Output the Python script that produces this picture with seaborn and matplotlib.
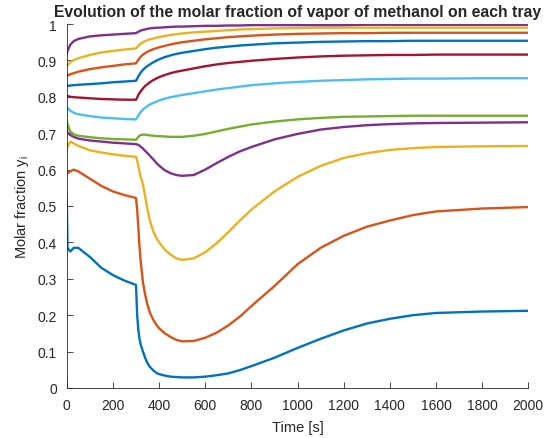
import matplotlib
matplotlib.use('Agg')
from matplotlib import pyplot as plt
import pandas as pd
import seaborn as sns

# time grid [s]
time = [0, 3, 15, 30, 50, 100, 150, 200, 250, 300, 305, 310, 315, 320, 330, 340, 350,
        360, 375, 390, 400, 425, 450, 475, 500, 550, 600, 650, 700, 750, 800, 900,
        1000, 1100, 1200, 1300, 1400, 1500, 1600, 1800, 2000]

# vapor molar fraction of methanol, tray 1 (bottom) .. tray 11 (top)
tray_1 = [0.52, 0.385, 0.375, 0.385, 0.385, 0.36, 0.33, 0.31, 0.295, 0.283, 0.2, 0.16,
          0.135, 0.12, 0.1, 0.082, 0.068, 0.058, 0.048, 0.041, 0.038, 0.034, 0.031,
          0.03, 0.029, 0.029, 0.031, 0.035, 0.04, 0.049, 0.06, 0.083, 0.11, 0.135,
          0.158, 0.177, 0.19, 0.2, 0.206, 0.21, 0.212]
tray_2 = [0.595, 0.59, 0.595, 0.60, 0.595, 0.575, 0.555, 0.54, 0.53, 0.522, 0.49, 0.44,
          0.39, 0.35, 0.29, 0.255, 0.228, 0.207, 0.187, 0.172, 0.164, 0.15, 0.14,
          0.132, 0.128, 0.129, 0.138, 0.152, 0.172, 0.196, 0.225, 0.28, 0.34, 0.385,
          0.418, 0.443, 0.46, 0.475, 0.485, 0.493, 0.497]
tray_3 = [0.655, 0.663, 0.677, 0.672, 0.665, 0.653, 0.647, 0.642, 0.638, 0.635, 0.625,
          0.61, 0.595, 0.58, 0.56, 0.525, 0.49, 0.46, 0.43, 0.41, 0.40, 0.38, 0.366,
          0.356, 0.352, 0.356, 0.373, 0.398, 0.428, 0.46, 0.49, 0.54, 0.58, 0.61,
          0.632, 0.645, 0.654, 0.659, 0.662, 0.664, 0.665]
tray_4 = [0.71, 0.702, 0.695, 0.69, 0.685, 0.68, 0.677, 0.674, 0.672, 0.67, 0.669,
          0.668, 0.666, 0.663, 0.658, 0.651, 0.645, 0.638, 0.628, 0.617, 0.611, 0.598,
          0.59, 0.585, 0.583, 0.585, 0.6, 0.618, 0.635, 0.65, 0.662, 0.683, 0.698,
          0.71, 0.717, 0.722, 0.725, 0.727, 0.728, 0.729, 0.73]
tray_5 = [0.735, 0.725, 0.705, 0.697, 0.693, 0.689, 0.686, 0.684, 0.683, 0.682, 0.686,
          0.69, 0.693, 0.695, 0.696, 0.696, 0.695, 0.694, 0.693, 0.692, 0.692, 0.691,
          0.69, 0.69, 0.69, 0.693, 0.698, 0.705, 0.712, 0.718, 0.724, 0.732, 0.738,
          0.742, 0.745, 0.746, 0.747, 0.748, 0.748, 0.748, 0.748]
tray_6 = [0.772, 0.769, 0.762, 0.756, 0.752, 0.747, 0.743, 0.741, 0.739, 0.738, 0.743,
          0.748, 0.753, 0.758, 0.765, 0.77, 0.775, 0.779, 0.783, 0.787, 0.79, 0.795,
          0.799, 0.802, 0.805, 0.81, 0.815, 0.82, 0.824, 0.828, 0.832, 0.837, 0.841,
          0.844, 0.846, 0.848, 0.849, 0.85, 0.85, 0.851, 0.851]
tray_7 = [0.803, 0.802, 0.8, 0.799, 0.798, 0.796, 0.794, 0.793, 0.792, 0.792, 0.798,
          0.805, 0.81, 0.815, 0.823, 0.83, 0.835, 0.84, 0.846, 0.851, 0.854, 0.86,
          0.865, 0.869, 0.872, 0.878, 0.884, 0.889, 0.893, 0.896, 0.899, 0.904, 0.908,
          0.911, 0.913, 0.914, 0.915, 0.915, 0.916, 0.916, 0.916]
tray_8 = [0.83, 0.83, 0.831, 0.832, 0.833, 0.835, 0.837, 0.84, 0.842, 0.844, 0.85,
          0.856, 0.861, 0.866, 0.874, 0.88, 0.885, 0.889, 0.895, 0.9, 0.903, 0.909,
          0.914, 0.918, 0.921, 0.926, 0.931, 0.935, 0.938, 0.941, 0.943, 0.947, 0.949,
          0.951, 0.952, 0.953, 0.953, 0.954, 0.954, 0.954, 0.954]
tray_9 = [0.857, 0.858, 0.862, 0.865, 0.869, 0.876, 0.881, 0.885, 0.889, 0.892, 0.897,
          0.902, 0.906, 0.91, 0.916, 0.92, 0.924, 0.927, 0.931, 0.934, 0.936, 0.94,
          0.944, 0.947, 0.95, 0.954, 0.958, 0.961, 0.964, 0.966, 0.968, 0.971, 0.973,
          0.974, 0.975, 0.975, 0.976, 0.976, 0.976, 0.976, 0.976]
tray_10 = [0.885, 0.887, 0.895, 0.901, 0.906, 0.915, 0.922, 0.926, 0.93, 0.933, 0.937,
           0.94, 0.943, 0.946, 0.95, 0.953, 0.956, 0.958, 0.96, 0.963, 0.964, 0.967,
           0.97, 0.972, 0.974, 0.977, 0.979, 0.981, 0.983, 0.985, 0.986, 0.988, 0.989,
           0.99, 0.99, 0.99, 0.99, 0.99, 0.99, 0.99, 0.99]
tray_11 = [0.918, 0.926, 0.943, 0.953, 0.959, 0.966, 0.969, 0.971, 0.973, 0.975, 0.977,
           0.979, 0.98, 0.982, 0.984, 0.985, 0.987, 0.988, 0.989, 0.99, 0.99, 0.991,
           0.992, 0.993, 0.993, 0.994, 0.995, 0.995, 0.996, 0.996, 0.997, 0.997, 0.997,
           0.997, 0.997, 0.998, 0.998, 0.998, 0.998, 0.998, 0.998]

trays = [tray_1, tray_2, tray_3, tray_4, tray_5, tray_6, tray_7, tray_8, tray_9,
         tray_10, tray_11]
tray_names = [f'tray {i + 1}' for i in range(len(trays))]

# matlab default color order
matlab_colors = ['#0072BD', '#D95319', '#EDB120', '#7E2F8E', '#77AC30', '#4DBEEE',
                 '#A2142F']
palette = [matlab_colors[i % len(matlab_colors)] for i in range(len(trays))]

# long form data frame
df = pd.concat([pd.DataFrame({'time': time, 'y': vals, 'tray': name})
                for name, vals in zip(tray_names, trays)], ignore_index=True)

sns.set_style('ticks')
plt.rcParams['font.family'] = ['Liberation Sans', 'DejaVu Sans']

fig = plt.figure(figsize=(5.52, 4.39), dpi=100)
ax = fig.add_axes([0.121, 0.114, 0.836, 0.829])

sns.lineplot(data=df, x='time', y='y', hue='tray', hue_order=tray_names,
             palette=palette, linewidth=1.7, legend=False, ax=ax)

ax.set_xlim(0, 2000)
ax.set_ylim(0, 1)
ax.set_xticks(range(0, 2001, 200))
ax.set_yticks([i / 10 for i in range(11)])
ax.set_yticklabels(['0'] + [f'0.{i}' for i in range(1, 10)] + ['1'])

# axis style like matlab (box off, ticks inside)
sns.despine(ax=ax)
for side in ['left', 'bottom']:
    ax.spines[side].set_color('#262626')
    ax.spines[side].set_linewidth(0.6)
ax.tick_params(direction='in', length=4, width=0.6, color='#262626',
               labelcolor='#262626', labelsize=10)
ax.tick_params(axis='y', pad=7)
ax.tick_params(axis='x', pad=7)

ax.set_xlabel('Time [s]', fontsize=10.5, color='#262626', labelpad=6)
ax.set_ylabel('Molar fraction y$_\\mathregular{i}$', fontsize=10.5, color='#262626',
              labelpad=5)
ax.set_title('Evolution of the molar fraction of vapor of methanol on each tray',
             fontsize=11.3, fontweight='bold', pad=6)

fig.savefig('out.png', dpi=100)
